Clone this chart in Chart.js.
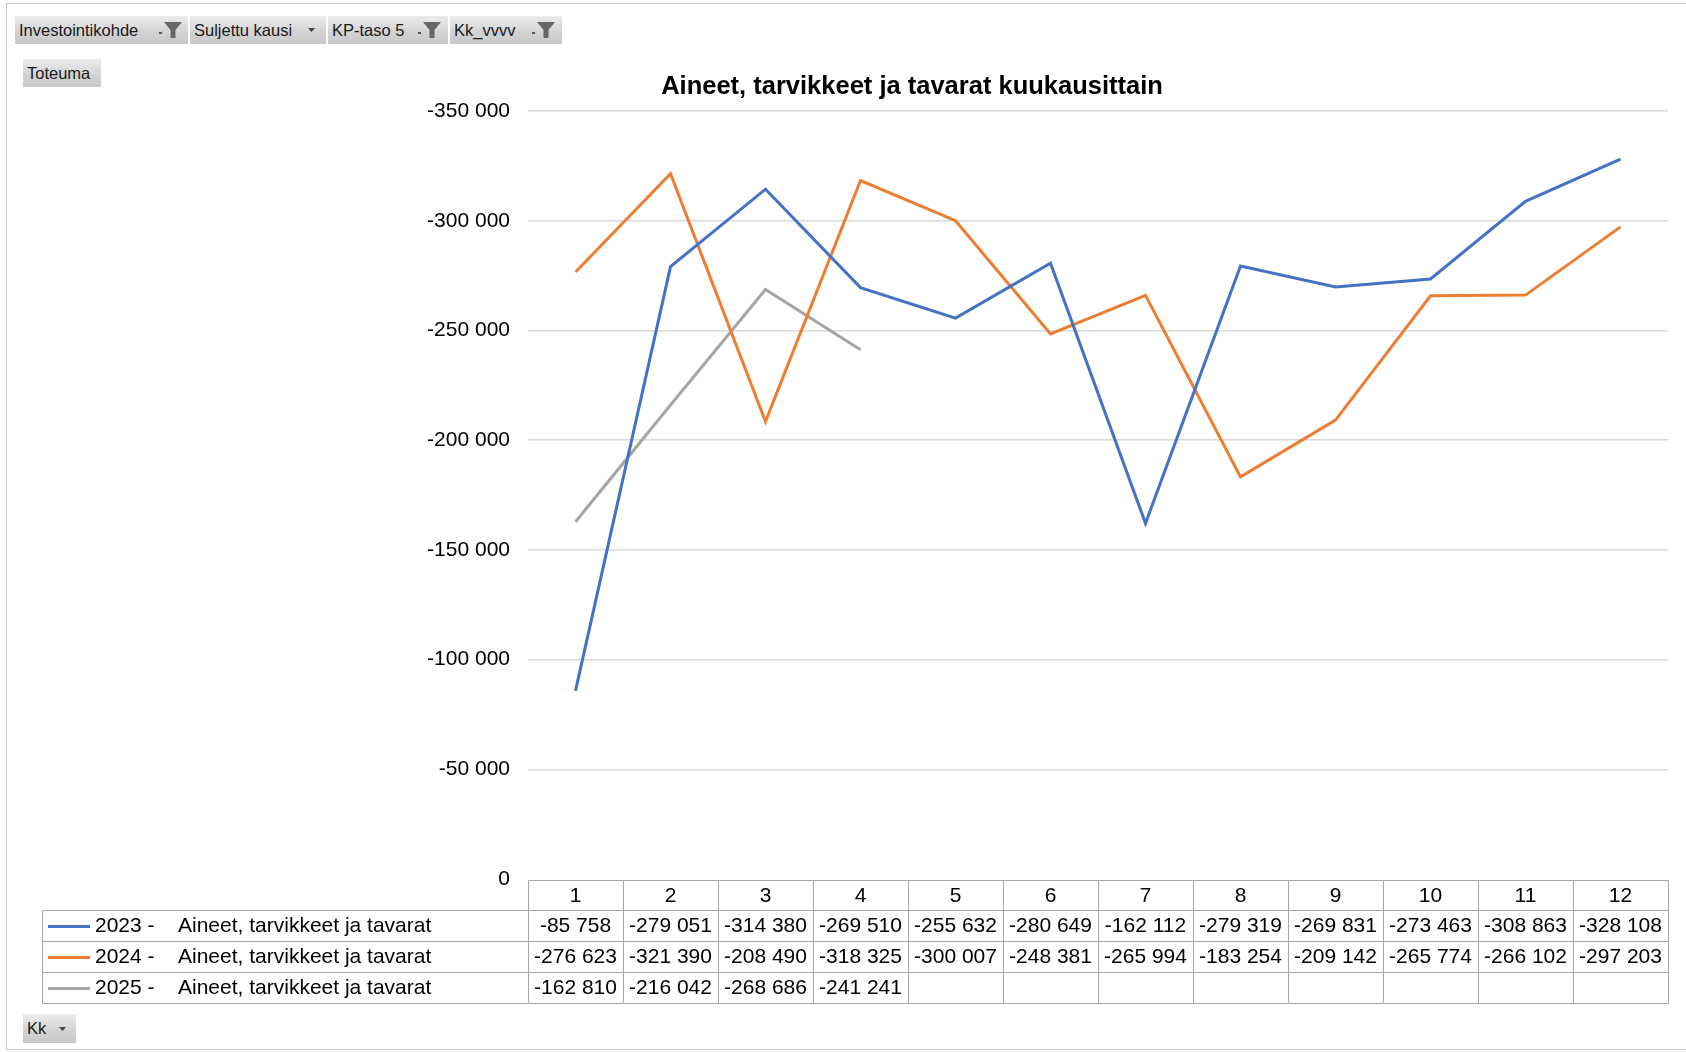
<!DOCTYPE html>
<html>
<head>
<meta charset="utf-8">
<script src="https://cdn.jsdelivr.net/npm/chart.js@4/dist/chart.umd.min.js"></script>
<style>
  html, body { margin: 0; padding: 0; background: #fff; }
  #wrap { position: relative; width: 1686px; height: 1052px; overflow: hidden; }
  #c { position: absolute; left: 0; top: 0; }
  .frame { position: absolute; left: 6px; top: 3px; width: 1700px; height: 1047px;
           border: 1px solid #c6c6c6; border-right: none; box-sizing: border-box; pointer-events: none; }
  .btn { position: absolute; height: 28px; box-sizing: border-box;
         background: linear-gradient(#ececec, #d2d2d2 60%, #c8c8c8);
         font-family: "Liberation Sans", Arial, sans-serif; font-size: 16.5px; color: #1a1a1a;
         line-height: 28px; padding-left: 4px; white-space: nowrap; }
  .btn svg { position: absolute; top: 0; }
</style>
</head>
<body>
<div id="wrap">
  <canvas id="c" width="1686" height="1052"></canvas>
  <div class="frame"></div>
  <div class="btn" style="left:15px;top:16px;width:173px;">Investointikohde
    <svg style="left:140px" width="32" height="28"><rect x="4" y="16" width="3" height="2" fill="#555"/><path d="M9 6 H27 L20.5 14 V22 H15.5 V14 Z" fill="#666"/></svg></div>
  <div class="btn" style="left:190px;top:16px;width:136px;">Suljettu kausi
    <svg style="left:114px" width="16" height="28"><path d="M4 12 H11 L7.5 16 Z" fill="#444"/></svg></div>
  <div class="btn" style="left:328px;top:16px;width:120px;">KP-taso 5
    <svg style="left:86px" width="32" height="28"><rect x="4" y="16" width="3" height="2" fill="#555"/><path d="M9 6 H27 L20.5 14 V22 H15.5 V14 Z" fill="#666"/></svg></div>
  <div class="btn" style="left:450px;top:16px;width:112px;">Kk_vvvv
    <svg style="left:78px" width="32" height="28"><rect x="4" y="16" width="3" height="2" fill="#555"/><path d="M9 6 H27 L20.5 14 V22 H15.5 V14 Z" fill="#666"/></svg></div>
  <div class="btn" style="left:23px;top:59px;width:78px;">Toteuma</div>
  <div class="btn" style="left:23px;top:1014px;width:53px;height:29px;line-height:29px;">Kk
    <svg style="left:32px" width="16" height="29"><path d="M4 13 H11 L7.5 17 Z" fill="#444"/></svg></div>
</div>
<script>
const months = ['1','2','3','4','5','6','7','8','9','10','11','12'];
const seriesYears = ['2023 -', '2024 -', '2025 -'];
const seriesName = 'Aineet, tarvikkeet ja tavarat';
const values2023 = [-85758, -279051, -314380, -269510, -255632, -280649, -162112, -279319, -269831, -273463, -308863, -328108];
const values2024 = [-276623, -321390, -208490, -318325, -300007, -248381, -265994, -183254, -209142, -265774, -266102, -297203];
const values2025 = [-162810, -216042, -268686, -241241];
const seriesColors = ['#4472C4', '#ED7D31', '#A5A5A5'];
const chartTitle = 'Aineet, tarvikkeet ja tavarat kuukausittain';
const yMin = -350000, yMax = 0, yStep = 50000;

const allValues = [values2023, values2024, values2025];
const FONT = '"Liberation Sans", Arial, sans-serif';

function fmt(v) {
  const a = Math.abs(Math.round(v)).toString().replace(/\B(?=(\d{3})+(?!\d))/g, ' ');
  return (v < 0 ? '-' : '') + a;
}

const tablePlugin = {
  id: 'tablePlugin',
  afterDraw(chart) {
    const ctx = chart.ctx;
    const xs = chart.scales.x;
    const area = chart.chartArea;
    const n = months.length;
    const cw = (area.right - area.left) / n;
    const top = area.bottom + 1;
    const rowH = [30, 31, 31, 31];
    const rows = [top];
    rowH.forEach(h => rows.push(rows[rows.length - 1] + h));
    const legendLeft = 42;

    ctx.save();
    // title
    ctx.fillStyle = '#000';
    ctx.font = 'bold 25.5px ' + FONT;
    ctx.textAlign = 'center';
    ctx.textBaseline = 'middle';
    ctx.fillText(chartTitle, 912, 87);

    ctx.strokeStyle = '#a6a6a6';
    ctx.lineWidth = 1;
    const line = (x1, y1, x2, y2) => {
      ctx.beginPath();
      ctx.moveTo(Math.round(x1) + 0.5, Math.round(y1) + 0.5);
      ctx.lineTo(Math.round(x2) + 0.5, Math.round(y2) + 0.5);
      ctx.stroke();
    };
    line(area.left, rows[0], area.right, rows[0]);
    for (let r = 1; r < rows.length; r++) line(legendLeft, rows[r], area.right, rows[r]);
    line(legendLeft, rows[1], legendLeft, rows[4]);
    for (let i = 0; i <= n; i++) {
      const x = area.left + i * cw;
      line(x, rows[0], x, rows[4]);
    }

    ctx.font = '21px ' + FONT;
    ctx.fillStyle = '#000';
    ctx.textAlign = 'center';
    ctx.textBaseline = 'middle';
    months.forEach((m, i) => {
      ctx.fillText(m, xs.getPixelForValue(i), (rows[0] + rows[1]) / 2 + 1);
    });
    allValues.forEach((vals, s) => {
      const yc = (rows[s + 1] + rows[s + 2]) / 2 + 1;
      vals.forEach((v, i) => {
        if (v === null || v === undefined) return;
        ctx.fillText(fmt(v), xs.getPixelForValue(i), yc);
      });
    });
    allValues.forEach((vals, s) => {
      const yc = (rows[s + 1] + rows[s + 2]) / 2 + 1;
      ctx.strokeStyle = seriesColors[s];
      ctx.lineWidth = 3;
      ctx.beginPath();
      ctx.moveTo(48, yc);
      ctx.lineTo(90, yc);
      ctx.stroke();
      ctx.textAlign = 'left';
      ctx.fillStyle = '#000';
      ctx.fillText(seriesYears[s], 95, yc);
      ctx.fillText(seriesName, 178, yc);
    });
    ctx.restore();
  }
};

new Chart(document.getElementById('c'), {
  type: 'line',
  data: {
    labels: months,
    datasets: allValues.map((vals, s) => ({
      label: seriesYears[s] + ' ' + seriesName,
      data: vals,
      borderColor: seriesColors[s],
      backgroundColor: seriesColors[s],
      borderWidth: 3,
      pointRadius: 0,
      tension: 0,
      fill: false
    }))
  },
  options: {
    responsive: false,
    animation: false,
    layout: { padding: { left: 0, top: 111, right: 18, bottom: 173 } },
    plugins: { legend: { display: false }, title: { display: false }, tooltip: { enabled: false } },
    scales: {
      x: { type: 'category', offset: true, display: false },
      y: {
        reverse: true,
        min: yMin, max: yMax,
        afterFit(scale) { scale.width = 528; },
        border: { display: false },
        grid: {
          drawTicks: false,
          color: (c) => c.tick && c.tick.value === 0 ? 'rgba(0,0,0,0)' : '#d9d9d9',
          lineWidth: 1.5
        },
        ticks: {
          stepSize: yStep,
          padding: 18,
          color: '#000',
          font: { family: FONT, size: 21 },
          callback: (v) => fmt(v)
        }
      }
    }
  },
  plugins: [tablePlugin]
});
</script>
</body>
</html>
